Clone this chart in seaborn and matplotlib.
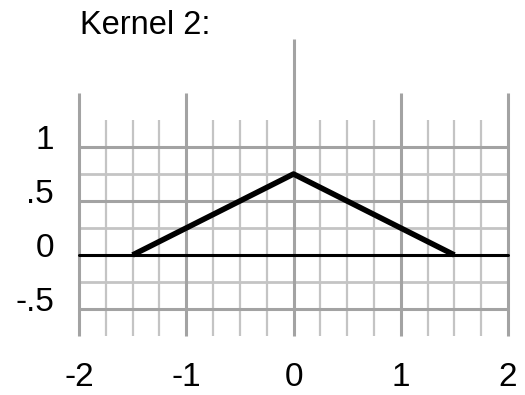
import numpy as np
import pandas as pd
import matplotlib
matplotlib.use("Agg")
import matplotlib.pyplot as plt
import matplotlib.transforms as mtransforms
import seaborn as sns

# ---- data ----
kernel_x = [-1.5, 0.0, 1.5]
kernel_y = [0.0, 0.75, 0.0]
baseline_x = [-2.0, 2.0]
baseline_y = [0.0, 0.0]
x_ticks = [-2, -1, 0, 1, 2]
x_tick_labels = ["-2", "-1", "0", "1", "2"]
y_ticks = [1.0, 0.5, 0.0, -0.5]
y_tick_labels = ["1", ".5", "0", "-.5"]
title_text = "Kernel 2:"

# grid layout (styling)
major_v = [-2, -1, 1, 2]
center_v = [0]
minor_v = [v for v in np.arange(-2, 2.001, 0.25) if abs(v - round(v)) > 1e-9]
dark_h = [-0.5, 0.5, 1.0]
light_h = [-0.25, 0.25, 0.75]

sns.set_theme(style="white")
plt.rcParams["font.family"] = ["Liberation Sans", "DejaVu Sans"]

fig = plt.figure(figsize=(5.25, 3.95), dpi=100)
ax = fig.add_axes([0.1402, 0.1357, 0.8377, 0.7792])
ax.set_xlim(-2.05, 2.05)
ax.set_ylim(-0.8, 2.05)

c_major = "#a3a3a3"
c_minor = "#c4c4c4"
ax.vlines(minor_v, -0.75, 1.25, colors=c_minor, linewidth=1.6, zorder=1)
ax.vlines(major_v, -0.75, 1.5, colors=c_major, linewidth=2.2, zorder=2)
ax.vlines(center_v, -0.75, 2.0, colors=c_major, linewidth=2.2, zorder=2)
ax.hlines(light_h, -2, 2, colors=c_minor, linewidth=2.0, zorder=1.5)
ax.hlines(dark_h, -2, 2, colors=c_major, linewidth=2.2, zorder=2)

base_df = pd.DataFrame({"x": baseline_x, "y": baseline_y})
kern_df = pd.DataFrame({"x": kernel_x, "y": kernel_y})
sns.lineplot(data=base_df, x="x", y="y", ax=ax, color="black", linewidth=2.2,
             sort=False, zorder=3)
sns.lineplot(data=kern_df, x="x", y="y", ax=ax, color="black", linewidth=4.0,
             sort=False, zorder=4, solid_capstyle="butt")

for s in ax.spines.values():
    s.set_visible(False)
ax.set_xlabel("")
ax.set_ylabel("")
ax.set_xticks(x_ticks)
ax.set_xticklabels(x_tick_labels)
ax.set_yticks(y_ticks)
ax.set_yticklabels(y_tick_labels)
ax.tick_params(axis="both", length=0, labelsize=24, colors="black")
ax.tick_params(axis="x", pad=15)
ax.tick_params(axis="y", pad=14)
offset = mtransforms.ScaledTranslation(0, 10 / 100, fig.dpi_scale_trans)
for lab in ax.get_yticklabels():
    lab.set_transform(lab.get_transform() + offset)

fig.text(80 / 525, (395 - 34) / 395, title_text, fontsize=23.5, ha="left",
         va="baseline", color="black")

fig.savefig("out.png", dpi=100)
